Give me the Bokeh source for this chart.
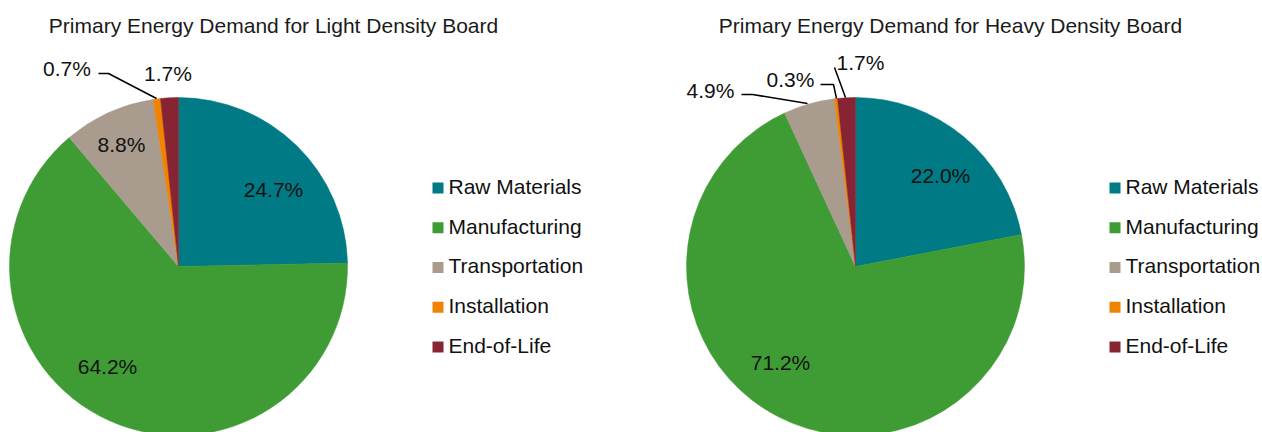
import numpy as np
from bokeh.plotting import figure
from bokeh.models import Range1d, ColumnDataSource
from bokeh.embed import file_html
from bokeh.resources import INLINE
from bokeh.core.properties import value

# ---------------- data ----------------
categories = ["Raw Materials", "Manufacturing", "Transportation", "Installation", "End-of-Life"]
light_values = [24.7, 64.2, 8.8, 0.7, 1.7]
heavy_values = [22.0, 71.2, 4.9, 0.3, 1.7]
light_title = "Primary Energy Demand for Light Density Board"
heavy_title = "Primary Energy Demand for Heavy Density Board"

# ---------------- style / layout ----------------
colors = ["#007A84", "#3F9C35", "#A99C8F", "#F08300", "#862433"]
FONT = "Liberation Sans"
FS = "21px"
W, H = 1262, 432
RADIUS = 169
TXT_SHIFT = -7.5  # correction of text baseline placement

# label anchor offsets (dx, baseline dy) in screen pixels from pie centre
light_label_off = [(95, -70), (-71, 107), (-57, -114.5), (-111.5, -191), (-10.5, -185.3)]
heavy_label_off = [(85, -83.3), (-75, 103.3), (-145, -168.7), (-65, -179.3), (5, -196.7)]
light_leaders = [None, None, None, [(-80, -193), (-70, -193), (-22, -168)], None]
heavy_leaders = [None, None, [(-114, -172), (-103, -172), (-48, -163)],
                 [(-35, -182), (-22, -182), (-19, -168)], [(-21, -199), (-10, -169)]]

p = figure(width=W, height=H, output_backend="svg", toolbar_location=None,
           x_range=Range1d(0, W), y_range=Range1d(-H, 0),
           min_border=0, outline_line_color=None)
p.axis.visible = False
p.grid.visible = False
p.background_fill_color = "white"
p.border_fill_color = "white"


def draw_pie(cx, cy, vals, title, label_off, leaders, legend_x):
    vals = np.array(vals, dtype=float)
    frac = vals / vals.sum()
    cum = np.concatenate([[0], np.cumsum(frac)])
    start = np.pi / 2 - cum[:-1] * 2 * np.pi
    end = np.pi / 2 - cum[1:] * 2 * np.pi
    src = ColumnDataSource(dict(start=start, end=end, color=colors))
    p.wedge(x=cx, y=-cy, radius=RADIUS, start_angle="start", end_angle="end",
            direction="clock", fill_color="color", line_color="color",
            line_width=0.5, source=src)
    # title
    p.text(x=[cx + 95], y=[-(32 + TXT_SHIFT)], text=[title], text_align="center",
           text_baseline="alphabetic", text_font=value(FONT), text_font_size=FS,
           text_color="#1a1a1a")
    # labels
    lx = [cx + d[0] for d in label_off]
    ly = [-(cy + d[1] + TXT_SHIFT) for d in label_off]
    p.text(x=lx, y=ly, text=[f"{v:.1f}%" for v in vals], text_align="center",
           text_baseline="alphabetic", text_font=value(FONT), text_font_size=FS,
           text_color="#111111")
    # leader lines
    for ld in leaders:
        if ld is None:
            continue
        p.line(x=[cx + a for a, b in ld], y=[-(cy + b) for a, b in ld],
               line_color="black", line_width=1.5)
    # legend
    n = len(categories)
    sy = [187.5 + i * 39.75 for i in range(n)]
    p.rect(x=[legend_x + 5.5] * n, y=[-v for v in sy], width=11, height=11,
           fill_color=colors, line_color=None)
    p.text(x=[legend_x + 16] * n, y=[-(v + 5.8 + TXT_SHIFT) for v in sy], text=categories,
           text_align="left", text_baseline="alphabetic", text_font=value(FONT),
           text_font_size=FS, text_color="#111111")


draw_pie(178, 266, light_values, light_title, light_label_off, light_leaders, 432)
draw_pie(855, 266, heavy_values, heavy_title, heavy_label_off, heavy_leaders, 1109)

open("out.html", "w").write(file_html(p, INLINE))
